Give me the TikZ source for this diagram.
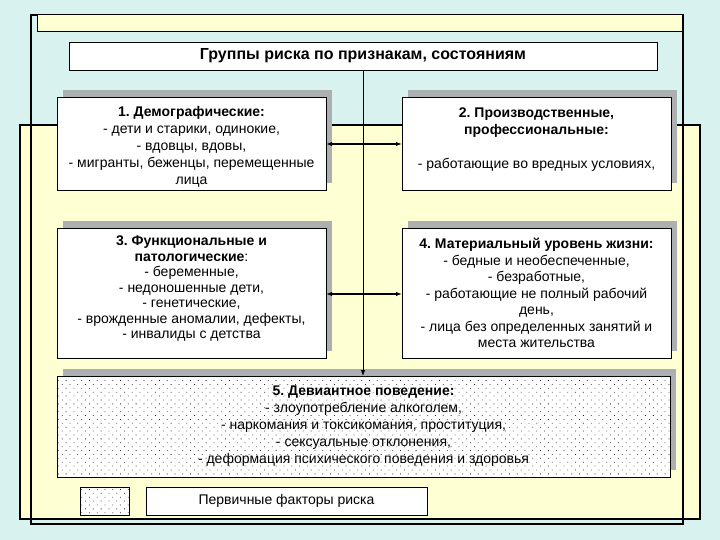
\documentclass[tikz,border=0pt]{standalone}
\usepackage{fontspec}
\setmainfont{Liberation Sans}
\usetikzlibrary{arrows.meta,patterns.meta,shadows}
\definecolor{bgcyan}{RGB}{216,242,240}
\definecolor{bgyellow}{RGB}{255,255,212}
\definecolor{shadowgray}{RGB}{172,176,176}
\tikzset{
  frame/.style={draw=black,line width=1.6pt},
  box/.style={draw=black,line width=0.8pt,fill=white,inner sep=0pt,outer sep=0pt,
    align=center,font=\fontsize{14}{17}\selectfont,
    drop shadow={shadow xshift=6pt,shadow yshift=7pt,fill=shadowgray,opacity=1}},
  plainbox/.style={draw=black,line width=0.8pt,fill=white,inner sep=0pt,outer sep=0pt,align=center},
  dotted fill/.style={pattern={Dots[distance=5.5pt,angle=45,radius=0.55pt]},pattern color=black!85},
  link/.style={line width=1.4pt,{Latex[length=6pt,width=4.5pt]}-{Latex[length=6pt,width=4.5pt]}},
}
\begin{document}
\frenchspacing
\begin{tikzpicture}[x=1pt,y=-1pt]
\useasboundingbox (0,0) rectangle (720,540);
\fill[bgcyan] (0,0) rectangle (720,540);
% frames
\draw[frame,fill=bgyellow] (20,125) rectangle (700,519);
\draw[frame] (31,15) rectangle (683,524);
\draw[line width=1pt,fill=bgyellow] (37,15) rectangle (683,32);
\draw[line width=2.5pt] (683,15) -- (683,32);
% title
\node[plainbox,minimum width=588pt,minimum height=28pt,font=\fontsize{16}{18}\selectfont\bfseries] (title) at (363,56) {Группы риска по признакам, состояниям};
% boxes
\node[box,minimum width=269pt,minimum height=93pt] (b1) at (191.5,144)
  {\rule{0pt}{16.5pt}\textbf{1. Демографические:}\\- дети и старики, одинокие,\\- вдовцы, вдовы,\\- мигранты, беженцы, перемещенные\\лица};
\node[box,minimum width=269pt,minimum height=93pt] (b2) at (536.5,144)
  {\textbf{2. Производственные,}\\\textbf{профессиональные:}\\[17pt]- работающие во вредных условиях,\\[-5pt]~};
\node[box,minimum width=269pt,minimum height=130pt,font=\fontsize{14}{15.5}\selectfont] (b3) at (191.5,293)
  {\textbf{3. Функциональные и}\\\textbf{патологические}:\\- беременные,\\- недоношенные дети,\\- генетические,\\- врожденные аномалии, дефекты,\\- инвалиды с детства\\[-4pt]~};
\node[box,minimum width=269pt,minimum height=130pt,font=\fontsize{14}{16.5}\selectfont] (b4) at (536.5,293)
  {\textbf{4. Материальный уровень жизни:}\\- бедные и необеспеченные,\\- безработные,\\- работающие не полный рабочий\\день,\\- лица без определенных занятий и\\места жительства};
\node[box,minimum width=613pt,minimum height=101pt,postaction={dotted fill}] (b5) at (363.5,426.5)
  {\textbf{5. Девиантное поведение:}\\- злоупотребление алкоголем,\\- наркомания и токсикомания, проституция,\\- сексуальные отклонения,\\- деформация психического поведения и здоровья};
% legend
\node[plainbox,minimum width=49pt,minimum height=28pt,postaction={dotted fill}] (leg) at (104.5,501) {};
\node[plainbox,minimum width=281pt,minimum height=28pt,font=\fontsize{14}{16}\selectfont] (legt) at (286.5,501) {Первичные факторы риска};
% connectors
\draw[line width=0.8pt,-{Latex[length=6pt,width=4.5pt]}] (title.south) -- (title.south |- b5.north);
\draw[link] (b1.east) -- (b2.west);
\draw[link] ([yshift=-1pt]b3.east) -- ([yshift=-1pt]b4.west);
\end{tikzpicture}
\end{document}
